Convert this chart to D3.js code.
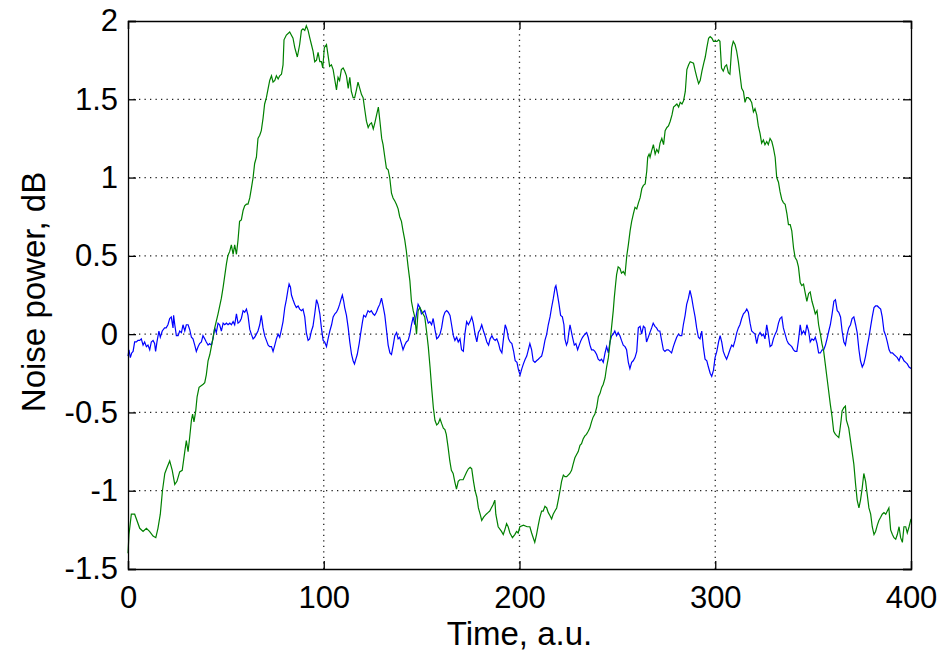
<!DOCTYPE html>
<html>
<head>
<meta charset="utf-8">
<script src="https://cdn.jsdelivr.net/npm/d3@7"></script>
<style>
  body { margin: 0; background: #fff; }
  svg { display: block; font-family: "Liberation Sans", Arial, Helvetica, sans-serif; }
</style>
</head>
<body>
<div id="chart"></div>
<script>
// values (time in a.u., power in dB)
const greenTime = [0,0.5,1.7,3.4,6,7.7,9.4,11,12.8,14.2,15.3,16.5,17.6,18.8,20,21.3,22.6,23.9,25,26.4,27.7,29,29.8,30.7,31.5,32.4,33,33.7,34.6,35.3,36.3,38.4,39.2,40,40.9,41.8,43.2,44.3,46,47.7,48.6,50.3,51,52,52.8,53.7,54.5,55.4,56.2,57,57.9,58.8,59.6,60.5,61.3,62.2,63,63.9,64.7,65.6,66.4,67.3,68.1,69,69.8,70.7,71.6,72.4,73.3,74.1,75,75.8,76.7,77.5,78.4,79.2,79.7,80.9,82.6,84.3,85.2,86.5,87.7,88.6,89.4,90.3,91.1,92,92.9,93.7,94.5,95.4,96.3,97.1,98,98.8,99.5,100.3,101.4,102.2,103,103.9,104.8,105.7,106.5,107.3,108.1,109,109.9,110.7,111.6,112.5,113.3,114.1,115,115.8,116.7,117.5,118.4,119.3,120.1,121,121.8,122.7,123.5,124.4,125.3,126.1,127,127.9,128.7,129.6,130.3,131.2,132,132.9,133.7,134.6,135.4,136.3,137.1,138,138.8,139.7,140.5,141.4,142.2,143.1,144,144.8,145.7,146.5,147.4,148.2,149.1,150.7,151.6,152.5,153.4,154.3,155.1,156,156.8,157.7,158.5,159.4,160.2,161.1,161.9,162.6,163.5,164.4,165.2,166.1,166.9,167.8,168.7,169.5,171.2,173,173.9,174.8,175.6,176.5,177.3,178.2,179,179.9,180.7,181.6,183,183.9,184.8,185.6,186.5,187.4,187.9,189.1,190.8,191.7,192.5,193.4,194.2,195.1,196.4,197.6,198.5,199.3,200.2,202,203.9,205.3,206.2,207,207.8,208.7,209.6,210.4,211.3,212.1,213,213.9,214.7,215.6,216.4,217.2,218.1,219,219.8,220.7,221.5,222.4,223.2,224.1,225.7,226.6,227.4,228.3,229.1,230,230.9,231.7,232.5,233.4,234.2,235.1,235.9,236.8,237.6,238.5,239.4,240.3,241.1,242,242.8,243.7,244.5,245.4,246.2,247,247.9,248.4,249.1,249.6,250.4,251.3,252.1,253,253.9,254.8,255.6,256.5,257.3,258.2,259,259.9,260.8,261.6,262.5,263.3,264.2,265,265.5,266.2,266.7,267.5,268.4,269.3,270.1,271,271.8,272.7,273.6,274.4,275.3,276.1,277,277.9,278.7,279.6,280.4,281.3,282.1,283,283.8,284.7,285.5,286.4,287.2,288.9,289.8,290.6,291.5,292.3,293.2,294.1,294.9,295.7,296.6,297.4,298.3,299.1,300.9,301.7,302.4,303.2,304.1,305,305.8,306.7,307.5,308.4,309.2,310.1,310.9,311.8,312.6,313.5,314.4,315.2,316,316.9,317.7,318.6,319.5,320.3,321.2,322,322.9,323.7,324.6,325.4,326.3,327.1,328,328.9,329.7,330.6,331.4,332.3,333.1,334,334.8,335.7,336.6,337.4,338.3,339.1,340,340.8,341.7,342.5,343.4,344.2,345.1,346,346.8,347.7,348.5,349.4,350.3,351.1,352,352.8,353.7,354.5,355.4,356.2,357.1,357.9,358.8,359.7,360.5,361.4,362.2,363.1,363.6,364.3,364.8,365.7,366.5,367,368.2,369.1,369.9,370.8,371.7,372.5,373.4,374.2,375.1,375.9,376.8,377.6,378.5,379.4,380.2,381.1,381.9,382.8,383.6,384.5,385.3,386.2,387.1,387.9,388.7,389.2,389.6,390.5,391.3,392.2,393,393.9,394.7,395.6,396.4,397.3,398.1,399,400];
const greenPower = [-1.40,-1.28,-1.15,-1.15,-1.24,-1.26,-1.24,-1.26,-1.29,-1.30,-1.24,-1.15,-1.00,-0.89,-0.85,-0.81,-0.87,-0.96,-0.94,-0.88,-0.87,-0.75,-0.68,-0.75,-0.66,-0.55,-0.51,-0.56,-0.49,-0.40,-0.34,-0.32,-0.31,-0.26,-0.17,-0.13,-0.04,0.04,0.13,0.23,0.30,0.45,0.50,0.53,0.57,0.51,0.57,0.51,0.60,0.72,0.73,0.79,0.82,0.83,0.83,0.87,0.93,1.00,1.09,1.13,1.25,1.27,1.30,1.38,1.47,1.51,1.57,1.62,1.65,1.61,1.62,1.65,1.63,1.65,1.66,1.72,1.88,1.91,1.93,1.89,1.83,1.77,1.85,1.94,1.95,1.94,1.97,1.94,1.89,1.85,1.81,1.74,1.75,1.80,1.74,1.74,1.70,1.83,1.85,1.78,1.71,1.72,1.69,1.62,1.56,1.64,1.62,1.69,1.70,1.68,1.65,1.57,1.64,1.55,1.51,1.51,1.56,1.61,1.57,1.53,1.51,1.43,1.36,1.32,1.34,1.35,1.31,1.35,1.40,1.45,1.36,1.25,1.21,1.13,1.06,1.05,1.00,0.90,0.87,0.85,0.83,0.80,0.75,0.72,0.66,0.60,0.53,0.43,0.34,0.21,0.15,0.11,0.00,0.15,0.17,0.13,0.11,0.02,-0.08,-0.21,-0.34,-0.47,-0.55,-0.58,-0.57,-0.54,-0.57,-0.60,-0.61,-0.64,-0.72,-0.81,-0.87,-0.89,-0.94,-0.99,-0.94,-0.93,-0.93,-0.88,-0.86,-0.85,-0.86,-0.94,-1.00,-1.04,-1.11,-1.15,-1.19,-1.17,-1.15,-1.14,-1.13,-1.11,-1.09,-1.06,-1.15,-1.23,-1.26,-1.28,-1.25,-1.21,-1.23,-1.27,-1.30,-1.28,-1.26,-1.27,-1.23,-1.22,-1.23,-1.23,-1.27,-1.30,-1.33,-1.28,-1.22,-1.17,-1.13,-1.13,-1.10,-1.11,-1.14,-1.16,-1.18,-1.15,-1.13,-1.11,-1.06,-1.00,-0.94,-0.90,-0.91,-0.91,-0.89,-0.87,-0.83,-0.79,-0.77,-0.75,-0.71,-0.70,-0.67,-0.65,-0.64,-0.62,-0.60,-0.56,-0.53,-0.51,-0.47,-0.40,-0.38,-0.34,-0.32,-0.28,-0.21,-0.15,-0.06,0.04,0.15,0.23,0.32,0.38,0.43,0.42,0.39,0.40,0.38,0.50,0.57,0.66,0.72,0.77,0.81,0.80,0.84,0.87,0.93,0.95,0.96,1.04,1.13,1.15,1.13,1.17,1.21,1.15,1.18,1.16,1.22,1.25,1.21,1.30,1.32,1.33,1.36,1.40,1.45,1.46,1.47,1.45,1.48,1.47,1.49,1.55,1.69,1.72,1.74,1.73,1.68,1.64,1.60,1.62,1.68,1.73,1.77,1.83,1.89,1.90,1.89,1.87,1.87,1.88,1.87,1.70,1.68,1.71,1.72,1.67,1.66,1.83,1.87,1.85,1.81,1.74,1.66,1.57,1.55,1.48,1.51,1.51,1.50,1.48,1.42,1.44,1.40,1.33,1.28,1.22,1.24,1.21,1.23,1.21,1.25,1.23,1.19,1.13,1.00,0.97,0.91,0.86,0.84,0.83,0.77,0.70,0.70,0.66,0.55,0.49,0.47,0.43,0.33,0.31,0.32,0.26,0.21,0.26,0.27,0.21,0.17,0.13,0.15,0.06,0.00,-0.06,-0.11,-0.19,-0.28,-0.36,-0.45,-0.53,-0.62,-0.64,-0.65,-0.66,-0.62,-0.55,-0.49,-0.47,-0.46,-0.55,-0.60,-0.68,-0.75,-0.83,-0.96,-1.06,-1.11,-1.06,-0.98,-0.89,-0.94,-1.02,-1.11,-1.15,-1.23,-1.28,-1.26,-1.22,-1.19,-1.17,-1.15,-1.14,-1.15,-1.13,-1.11,-1.19,-1.25,-1.28,-1.30,-1.31,-1.28,-1.23,-1.30,-1.33,-1.23,-1.23,-1.27,-1.23,-1.18];

const blueTime = [0,0.5,1.2,1.9,2.6,3.4,4.3,5.1,6,6.8,7.7,8.5,9.4,10.2,11.1,11.9,12.8,13.6,14.1,14.8,15.8,16.5,17.5,18.7,19.5,20.4,21.3,22.1,23,23.3,23.9,24.7,25.6,26.4,27.3,28.1,29,29.8,30.7,31.5,32.4,33.2,34.1,34.9,35.8,36.6,37.5,38.3,39.2,40,40.9,41.7,42.6,43.4,44.3,45.1,46,46.8,47.7,48.6,49.4,50.3,51.1,52,52.8,53.7,54.5,55.4,56.2,57.1,57.9,58.8,59.6,60.5,61.3,62.2,63,63.9,64.7,65.6,66.4,67.3,68.1,69,69.8,70.7,71.6,72.4,73.3,74.1,75,75.8,76.7,77.5,78.4,79.2,80.1,80.9,81.8,82.3,83,83.5,84.3,85.2,86,86.9,87.7,88.6,89.4,90.3,91.1,92,92.8,93.7,94.5,95.4,96.3,97.1,98,98.8,99.7,100.5,101.4,102.2,103.1,104,104.8,105.7,106.5,107.3,108.1,109,109.5,110.2,110.7,111.6,112.5,113.3,114.2,115,115.7,116.4,117.1,118.1,118.8,119.8,120.4,121.4,122.6,123.5,124.3,125.2,126,126.9,127.8,128.6,129.5,130.3,131.2,132.1,132.9,133.8,134.6,135.5,136.3,137.2,138,138.8,139.7,140.5,141.4,142.2,143.1,144,144.8,145.7,146.5,147.4,148.2,149.1,149.9,150.8,151.6,152.5,153.4,154.2,155.1,155.9,156.8,157.7,158.5,159.4,160.2,161.1,161.9,162.8,163.6,164.5,165.3,166.2,167,167.9,168.7,169.6,170.4,171.3,172.1,173,173.9,174.7,175.6,176.4,177.3,178.2,179,179.9,180.7,181.6,182.4,183.3,184.2,185,185.9,186.7,187.6,188.4,189.3,190.1,191,191.8,192.7,193.5,194.4,195.2,196.1,197,197.8,198.7,199.5,200.3,201.2,202,202.9,203.7,204.5,205.3,206.2,207,207.9,208.7,209.6,210.4,211.3,212.1,213,213.9,214.7,215.6,216.4,217.3,218.2,218.6,219.3,220.2,221,221.9,222.7,223.2,224,224.6,225.1,225.8,226.6,227.1,228,228.8,229.7,230.5,231.4,232.2,233.4,234.3,235.1,236,236.8,237.7,238.5,239.4,240.2,241.1,241.9,242.8,243.7,244.5,245.4,246.2,247.1,247.9,248.7,249.6,250.4,251.3,252.1,253,253.9,254.7,255.6,256.4,257.3,258.1,259,259.9,260.7,261.6,262.4,263.3,264.1,264.9,265.8,266.6,267.5,268.3,269.2,270,270.9,271.7,272.6,273.5,274.3,275.2,276,276.9,277.7,278.6,279.4,280.3,281.2,282,282.9,283.7,284.6,285.4,286.3,287.1,288,288.8,289.7,290.5,291.4,292.2,293.1,293.9,294.8,295.7,296.5,297.4,298.2,299.1,299.9,300.8,301.7,302.5,303.3,304.1,305,305.8,306.7,307.5,308.4,309.2,310.1,311,311.8,312.6,313.5,314.4,315.2,316.1,316.9,317.8,318.6,319.5,320.3,321.2,322,322.9,323.8,324.6,325.4,326.3,327.1,328,328.9,329.7,330.6,331.4,332.3,333.1,334,334.8,335.7,336.6,337.4,338.3,339.1,340,340.8,341.7,342.5,343.4,344.2,345.1,346,346.8,347.7,348.5,349.4,350.3,351.1,352,352.8,353.7,354.6,355.4,356.3,357.1,358,358.8,359.7,360.6,361.4,362.3,363.1,364,364.8,365.7,366.5,367.4,368.2,369.1,369.9,370.8,371.7,372.5,373.4,374.2,375.1,375.9,376.8,377.6,378.5,379.4,380.2,381.1,381.9,382.8,383.6,384.5,385.3,386.2,387.1,387.9,388.8,389.6,390.5,391.3,392.2,393,393.9,394.7,395.6,396.4,397.3,398.1,399,400];
const bluePower = [-0.14,-0.10,-0.15,-0.12,-0.11,-0.05,-0.05,-0.04,-0.04,-0.03,-0.07,-0.05,-0.08,-0.07,-0.10,-0.05,-0.04,-0.06,-0.11,-0.05,0.02,-0.02,0.02,0.04,0.04,0.06,0.10,0.11,0.04,0.12,0.06,-0.01,-0.01,0.02,0.01,0.06,0.02,0.06,0.06,0.03,-0.02,-0.03,-0.07,-0.11,-0.08,-0.06,-0.05,-0.01,-0.03,-0.05,-0.07,-0.06,-0.07,-0.03,0.04,0.01,0.07,0.06,0.02,0.07,0.06,0.07,0.06,0.07,0.06,0.08,0.06,0.13,0.07,0.08,0.10,0.15,0.14,0.16,0.12,0.03,0.00,-0.03,-0.02,0.00,0.02,0.06,0.12,0.04,-0.01,-0.04,-0.07,-0.08,-0.08,-0.11,-0.07,-0.03,0.00,-0.02,0.03,0.08,0.17,0.22,0.29,0.32,0.30,0.25,0.22,0.19,0.17,0.18,0.16,0.15,0.16,0.11,0.01,-0.04,-0.03,0.02,0.05,0.13,0.22,0.19,0.13,0.04,-0.04,-0.05,-0.08,-0.03,0.02,0.06,0.11,0.13,0.14,0.16,0.19,0.23,0.25,0.21,0.17,0.12,0.04,-0.05,-0.13,-0.17,-0.19,-0.16,-0.13,-0.06,0.00,0.08,0.12,0.11,0.15,0.14,0.15,0.13,0.12,0.14,0.17,0.19,0.23,0.18,0.12,0.02,-0.07,-0.12,-0.13,-0.07,-0.01,0.01,-0.03,-0.02,-0.06,-0.10,-0.07,-0.05,-0.04,0.00,0.06,0.11,0.06,0.13,0.19,0.17,0.13,0.14,0.15,0.11,0.07,0.08,0.06,0.10,0.03,-0.03,-0.02,0.00,0.04,0.11,0.14,0.15,0.14,0.12,0.06,-0.01,-0.04,-0.02,-0.05,-0.03,-0.10,-0.11,0.00,0.08,0.06,0.08,0.11,0.07,0.00,-0.05,0.01,0.03,0.06,0.02,-0.01,-0.05,-0.07,-0.03,-0.01,-0.03,-0.04,-0.03,-0.06,-0.10,-0.12,-0.03,0.06,0.03,-0.03,-0.05,-0.06,-0.11,-0.17,-0.18,-0.23,-0.26,-0.22,-0.19,-0.16,-0.14,-0.10,-0.06,-0.10,-0.17,-0.18,-0.17,-0.16,-0.15,-0.14,-0.10,-0.04,0.00,0.06,0.11,0.17,0.23,0.30,0.31,0.26,0.19,0.12,0.11,0.06,-0.03,-0.07,-0.05,0.00,0.06,0.01,-0.02,-0.07,-0.06,-0.10,-0.07,-0.04,-0.02,0.00,0.01,-0.02,-0.07,-0.10,-0.10,-0.11,-0.13,-0.16,-0.17,-0.16,-0.18,-0.12,-0.08,-0.12,-0.05,-0.01,0.00,0.02,-0.01,0.01,-0.01,-0.04,-0.07,-0.08,-0.10,-0.18,-0.22,-0.18,-0.17,-0.15,-0.11,0.04,0.05,0.00,0.05,0.04,-0.05,-0.02,0.01,0.04,0.07,0.05,0.04,0.02,0.02,-0.04,-0.10,-0.11,-0.10,-0.10,-0.11,-0.12,-0.08,-0.05,-0.02,0.00,-0.01,-0.01,0.06,0.12,0.19,0.23,0.28,0.23,0.17,0.11,0.04,-0.02,-0.03,0.02,-0.08,-0.16,-0.17,-0.21,-0.25,-0.27,-0.23,-0.15,-0.11,-0.05,-0.01,-0.05,-0.11,-0.14,-0.16,-0.13,-0.10,-0.07,-0.08,-0.04,0.01,0.04,0.06,0.10,0.13,0.14,0.16,0.14,0.07,0.02,0.01,0.00,-0.06,-0.01,0.01,-0.01,0.00,-0.03,0.06,0.00,-0.08,-0.07,-0.03,0.00,0.02,0.07,0.10,0.11,0.04,0.00,-0.04,-0.06,-0.07,-0.08,-0.10,-0.11,-0.11,-0.04,0.06,0.00,0.02,0.00,0.06,0.02,-0.05,-0.03,-0.04,-0.02,-0.06,-0.12,-0.12,-0.10,-0.10,-0.07,-0.03,0.02,0.06,0.13,0.21,0.22,0.15,0.14,0.11,0.02,-0.05,-0.07,0.00,0.04,0.06,0.10,0.11,0.06,0.01,-0.10,-0.17,-0.21,-0.19,-0.14,-0.08,-0.02,0.05,0.11,0.17,0.18,0.18,0.17,0.16,0.11,0.02,-0.01,-0.05,-0.10,-0.12,-0.12,-0.13,-0.14,-0.15,-0.17,-0.14,-0.15,-0.17,-0.18,-0.19,-0.21,-0.22];

const xTicks = [0, 100, 200, 300, 400];
const yTicks = [-1.5, -1, -0.5, 0, 0.5, 1, 1.5, 2];

const FONT = "'Liberation Sans', Arial, Helvetica, sans-serif";

function main() {
    const W = 943, H = 656;
    const margins = { top: 21, right: 32, bottom: 87, left: 128 };
    const width = W - margins.left - margins.right;
    const height = H - margins.top - margins.bottom;

    const svg = d3.select("#chart")
        .append("svg")
            .attr("width", W)
            .attr("height", H);

    svg.append("rect").attr("width", W).attr("height", H).attr("fill", "#fff");

    const g = svg.append("g")
        .attr("transform", `translate(${margins.left}, ${margins.top})`);

    const x = d3.scaleLinear().domain([0, 400]).range([0, width]);
    const y = d3.scaleLinear().domain([-1.5, 2]).range([height, 0]);

    // dotted grid (matlab style)
    const grid = g.append("g").attr("class", "grid");
    grid.selectAll("line.vx")
        .data(xTicks.slice(1, -1))
        .enter().append("line")
            .attr("x1", d => x(d)).attr("x2", d => x(d))
            .attr("y1", height).attr("y2", 0);
    grid.selectAll("line.hy")
        .data(yTicks.slice(1, -1))
        .enter().append("line")
            .attr("x1", 0).attr("x2", width)
            .attr("y1", d => y(d)).attr("y2", d => y(d));
    grid.selectAll("line")
        .attr("stroke", "#222")
        .attr("stroke-width", 1.3)
        .attr("stroke-dasharray", "1.3 4.2");

    // data lines
    const line = d3.line().x(d => x(d[0])).y(d => y(d[1]));
    const green = greenTime.map((t, i) => [t, greenPower[i]]);
    const blue = blueTime.map((t, i) => [t, bluePower[i]]);

    g.append("path").datum(blue)
        .attr("fill", "none").attr("stroke", "#0000ff").attr("stroke-width", 1.2)
        .attr("d", line);
    g.append("path").datum(green)
        .attr("fill", "none").attr("stroke", "#008000").attr("stroke-width", 1.2)
        .attr("d", line);

    // axes, ticks pointing inwards on all four sides
    const tick = 8;
    const bottom = g.append("g")
        .attr("transform", `translate(0, ${height})`)
        .call(d3.axisBottom(x).tickValues(xTicks).tickSize(-tick).tickPadding(0).tickFormat(d3.format("d")));
    const left = g.append("g")
        .call(d3.axisLeft(y).tickValues(yTicks).tickSize(-tick).tickPadding(10).tickFormat(d => d));
    const top = g.append("g")
        .call(d3.axisTop(x).tickValues(xTicks).tickSize(-tick).tickFormat(""));
    const right = g.append("g")
        .attr("transform", `translate(${width}, 0)`)
        .call(d3.axisRight(y).tickValues(yTicks).tickSize(-tick).tickFormat(""));

    [bottom, left, top, right].forEach(a => {
        a.select(".domain").attr("stroke", "#000").attr("stroke-width", 1.3);
        a.selectAll(".tick line").attr("stroke", "#000").attr("stroke-width", 1.3);
        a.selectAll("text")
            .attr("fill", "#000")
            .attr("font-size", 31)
            .attr("font-family", FONT);
    });
    bottom.selectAll("text").attr("y", 39).attr("dy", 0);

    // labels
    g.append("text")
        .attr("x", width / 2)
        .attr("y", height + 76)
        .attr("text-anchor", "middle")
        .attr("font-size", 33)
        .attr("font-family", FONT)
        .text("Time, a.u.");

    g.append("text")
        .attr("transform", `translate(${-83}, ${height / 2 - 3}) rotate(-90)`)
        .attr("text-anchor", "middle")
        .attr("font-size", 33)
        .attr("font-family", FONT)
        .text("Noise power, dB");
}

main();
</script>
</body>
</html>
